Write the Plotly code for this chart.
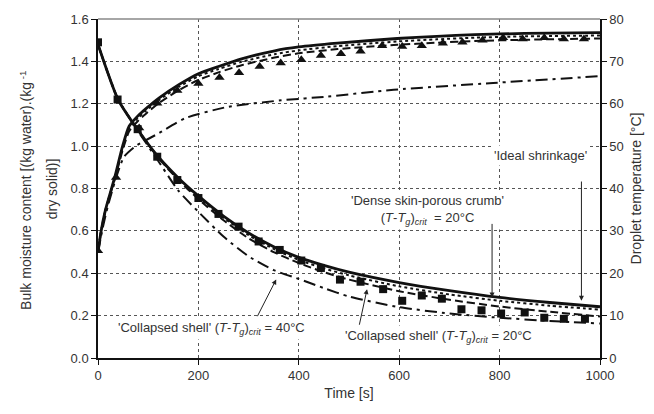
import plotly.graph_objects as go

# ---------------- Moisture content (left axis) ----------------
t_sq = [0, 39, 79, 118, 158, 200, 240, 280, 320, 362, 405, 444, 482, 523, 568, 606, 645, 685, 724, 764, 803, 850, 889, 928, 970]
m_sq = [1.49, 1.22, 1.08, 0.95, 0.84, 0.755, 0.68, 0.62, 0.55, 0.51, 0.46, 0.425, 0.37, 0.36, 0.325, 0.27, 0.295, 0.28, 0.23, 0.225, 0.21, 0.215, 0.19, 0.185, 0.185]

t_m = [0, 40, 80, 120, 160, 200, 250, 300, 350, 400, 450, 500, 600, 700, 800, 900, 1000]
m_ideal = [1.48, 1.22, 1.075, 0.95, 0.85, 0.765, 0.67, 0.59, 0.525, 0.475, 0.437, 0.405, 0.356, 0.318, 0.286, 0.262, 0.242]
m_dense = [1.48, 1.22, 1.075, 0.948, 0.845, 0.758, 0.662, 0.58, 0.515, 0.463, 0.423, 0.39, 0.338, 0.3, 0.27, 0.247, 0.228]
m_cs20 = [1.48, 1.22, 1.075, 0.945, 0.84, 0.75, 0.65, 0.565, 0.5, 0.448, 0.405, 0.37, 0.315, 0.275, 0.243, 0.218, 0.196]
m_cs40 = [1.48, 1.22, 1.07, 0.93, 0.79, 0.69, 0.573, 0.48, 0.415, 0.373, 0.33, 0.29, 0.24, 0.21, 0.19, 0.175, 0.163]

# ---------------- Droplet temperature (right axis) ----------------
t_tri = [0, 36, 82, 118, 158, 200, 242, 281, 322, 364, 405, 444, 484, 523, 566, 606, 645, 687, 726, 766, 807, 846, 889, 928, 968]
T_tri = [25.3, 42.6, 54.3, 60.1, 63.1, 64.8, 66.2, 67.3, 68.8, 69.6, 70.4, 71.4, 71.8, 72.4, 73.7, 73.5, 73.7, 74.3, 74.5, 75.0, 75.6, 75.3, 75.6, 75.3, 75.3]

t_T = [0, 6, 15, 33, 49, 62, 80, 95, 122, 161, 200, 240, 286, 352, 400, 477, 596, 675, 750, 850, 1000]
T_ideal = [25, 29.8, 35, 42.5, 50, 54.7, 57.2, 58.8, 61.4, 64.5, 67.1, 68.8, 70.6, 72.5, 73.4, 74.3, 75.4, 75.9, 76.3, 76.6, 76.8]
T_dense = [25, 29.8, 35, 42.3, 49.6, 54.2, 56.7, 58.3, 60.9, 64.0, 66.5, 68.2, 69.9, 71.7, 72.6, 73.6, 74.7, 75.2, 75.6, 75.9, 76.1]
T_cs20 = [25, 29.8, 35, 42.0, 49.0, 53.5, 56.0, 57.6, 60.2, 63.2, 65.6, 67.4, 69.1, 70.9, 71.9, 72.9, 73.9, 74.4, 74.8, 75.1, 75.4]

t_T40 = [0, 10, 20, 40, 52, 75, 122, 174, 260, 365, 457, 589, 787, 1000]
T_cs40 = [25, 31, 36, 44, 47.5, 50, 53.1, 56.6, 59.3, 60.8, 61.7, 63.3, 64.9, 66.5]

x_ticks = [0, 200, 400, 600, 800, 1000]

INK = "#111111"
TXT = "#333333"
FONT = "Liberation Sans, Arial, sans-serif"

fig = go.Figure()

def line(x, y, dash, width, yaxis="y"):
    fig.add_trace(go.Scatter(x=x, y=y, mode="lines", yaxis=yaxis, line=dict(color=INK, width=width, dash=dash, shape="spline", smoothing=0.6), showlegend=False, hoverinfo="skip"))

# moisture curves
line(t_m, m_cs40, "12px,5px,3px,5px", 2)
line(t_m, m_cs20, "8px,4px", 2)
line(t_m, m_dense, "3px,3px", 2)
line(t_m, m_ideal, "solid", 2.8)
fig.add_trace(go.Scatter(x=t_sq, y=m_sq, mode="markers", marker=dict(symbol="square", size=8, color=INK), showlegend=False))

# temperature curves
line(t_T40, T_cs40, "12px,5px,3px,5px", 2, "y2")
line(t_T, T_cs20, "8px,4px", 2, "y2")
line(t_T, T_dense, "3px,3px", 2, "y2")
line(t_T, T_ideal, "solid", 2.8, "y2")
fig.add_trace(go.Scatter(x=t_tri, y=T_tri, yaxis="y2", mode="markers", marker=dict(symbol="triangle-up", size=9, color=INK), showlegend=False))

grid = dict(showgrid=True, gridcolor="#555555", gridwidth=1, griddash="3px,3px")

fig.update_layout(
    width=654, height=414,
    margin=dict(l=98, r=50, t=15, b=56),
    paper_bgcolor="white", plot_bgcolor="white",
    font=dict(family=FONT, size=13, color=TXT),
    xaxis=dict(range=[0, 1000], tickvals=x_ticks, ticks="outside", ticklen=5, tickcolor=INK,
               showline=True, linecolor=INK, linewidth=1.5, zeroline=False,
               title=dict(text="Time [s]", font=dict(size=14), standoff=6), **grid),
    yaxis=dict(range=[0, 1.6], dtick=0.2, tickformat=".1f", ticks="outside", ticklen=5, tickcolor=INK,
               showline=True, linecolor=INK, linewidth=1.5, zeroline=False, **grid),
    yaxis2=dict(range=[0, 80], dtick=10, overlaying="y", side="right", ticks="outside", ticklen=5, tickcolor=INK,
                showline=True, linecolor=INK, linewidth=1.5, showgrid=False, zeroline=False,
                title=dict(text="Droplet temperature [°C]", font=dict(size=14), standoff=8)),
)

# top frame line
fig.add_shape(type="line", xref="paper", yref="paper", x0=0, x1=1, y0=1, y1=1, line=dict(color="#888888", width=1.5))

# left axis title (two lines, wide spacing as in the reference)
fig.add_annotation(xref="paper", yref="paper", x=-0.144, y=0.495, textangle=-90, showarrow=False,
                   text="Bulk moisture content [(kg water).(kg<sup> -1</sup>", font=dict(size=14, color=TXT),
                   xanchor="center", yanchor="middle")
fig.add_annotation(xref="paper", yref="paper", x=-0.092, y=0.50, textangle=-90, showarrow=False,
                   text="dry solid)]", font=dict(size=14, color=TXT), xanchor="center", yanchor="middle")

def label(x, y, text):
    fig.add_annotation(x=x, y=y, xref="x", yref="y", text=text, showarrow=False, bgcolor="white",
                       font=dict(size=13, color=TXT), align="center", borderpad=2)

def arrow(x0, y0, x1, y1):
    fig.add_annotation(x=x1, y=y1, ax=x0, ay=y0, xref="x", yref="y", axref="x", ayref="y", text="",
                       showarrow=True, arrowhead=2, arrowsize=1, arrowwidth=1, arrowcolor="#222222")

crit = "(<i>T</i>-<i>T</i><sub><i>g</i></sub>)<sub><i>crit</i></sub>"
label(882, 0.954, "'Ideal shrinkage'")
label(657, 0.70, "'Dense skin-porous crumb'<br>" + crit + "  = 20°C")
label(226, 0.14, "'Collapsed shell' " + crit + " = 40°C")
label(679, 0.10, "'Collapsed shell' " + crit + " = 20°C")

arrow(963, 0.84, 963, 0.27)
arrow(785, 0.64, 785, 0.286)
arrow(316, 0.19, 355, 0.371)
arrow(520, 0.15, 536, 0.325)

fig.write_html("out.html")
